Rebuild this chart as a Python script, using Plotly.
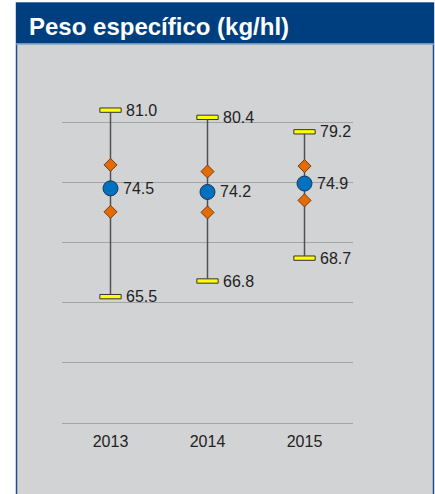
import plotly.graph_objects as go

# Data
years = ["2013", "2014", "2015"]
max_vals = [81.0, 80.4, 79.2]
min_vals = [65.5, 66.8, 68.7]
mean_vals = [74.5, 74.2, 74.9]
upper_vals = [76.45, 75.9, 76.35]
lower_vals = [72.55, 72.5, 73.5]

W, H = 435, 494
L, R, T, B = 62, 82, 62, 71
PW, PH = W - L - R, H - T - B


def px_x(px):
    return (px - L) / PW


def px_y(py):
    return (H - B - py) / PH


CAP_H = 0.36
TXT = "#222222"
FONT = "Liberation Sans, Arial, sans-serif"

fig = go.Figure()

# whisker lines (trimmed so the caps sit on top)
wx, wy = [], []
for i, (lo, hi) in enumerate(zip(min_vals, max_vals)):
    wx += [i, i, None]
    wy += [lo + CAP_H / 2, hi - CAP_H / 2, None]
fig.add_trace(go.Scatter(x=wx, y=wy, mode="lines",
                         line=dict(color="#505050", width=1.5),
                         hoverinfo="skip", showlegend=False))

idx = list(range(len(years)))

# caps for max / min
for vals in (max_vals, min_vals):
    fig.add_trace(go.Bar(
        x=idx, y=[CAP_H] * len(years),
        base=[v - CAP_H / 2 for v in vals],
        width=0.22,
        marker=dict(color="#ffff00", line=dict(color="#333333", width=1)),
        hoverinfo="skip", showlegend=False))

# inner markers
fig.add_trace(go.Scatter(
    x=idx + idx, y=upper_vals + lower_vals, mode="markers",
    marker=dict(symbol="diamond", size=10, color="#e36c09",
                line=dict(color="#7a3a05", width=1)),
    hoverinfo="skip", showlegend=False))

# mean
fig.add_trace(go.Scatter(
    x=idx, y=mean_vals, mode="markers",
    marker=dict(symbol="circle", size=15, color="#0070c0",
                line=dict(color="#1f3550", width=1)),
    hoverinfo="skip", showlegend=False))

annotations = []
for i, (hi, lo, m) in enumerate(zip(max_vals, min_vals, mean_vals)):
    for v, shift in ((hi, 13), (lo, 13), (m, 10)):
        annotations.append(dict(
            x=i, y=v, xref="x", yref="y", text=f"{v:.1f}",
            showarrow=False, xanchor="left", yanchor="middle", xshift=shift,
            font=dict(family=FONT, size=16, color=TXT)))

annotations.append(dict(
    x=px_x(27), y=px_y(26), xref="paper", yref="paper",
    text="<b>Peso específico (kg/hl)</b>", showarrow=False,
    xanchor="left", yanchor="middle",
    font=dict(family=FONT, size=24, color="#ffffff")))

shapes = [
    # grey panel with blue border
    dict(type="rect", xref="paper", yref="paper", layer="below",
         x0=px_x(16.5), x1=px_x(433.5), y0=px_y(520), y1=px_y(3),
         fillcolor="#d2d3d5", line=dict(color="#1b4f8c", width=1.5)),
    # title bar
    dict(type="rect", xref="paper", yref="paper", layer="below",
         x0=px_x(16), x1=px_x(434), y0=px_y(43.5), y1=px_y(3),
         fillcolor="#003f7f", line=dict(width=0)),
    dict(type="line", xref="paper", yref="paper", layer="below",
         x0=px_x(16), x1=px_x(434), y0=px_y(44), y1=px_y(44),
         line=dict(color="#7d9cc8", width=1.5)),
]

fig.update_layout(
    width=W, height=H,
    margin=dict(l=L, r=R, t=T, b=B),
    paper_bgcolor="#ffffff",
    plot_bgcolor="rgba(0,0,0,0)",
    showlegend=False,
    barmode="overlay",
    annotations=annotations,
    shapes=shapes,
    xaxis=dict(range=[-0.5, 2.5], tickvals=idx, ticktext=years,
               showgrid=False, zeroline=False,
               showline=True, linecolor="#a3a4a6", linewidth=1,
               ticks="outside", ticklen=4, tickcolor="rgba(0,0,0,0)",
               fixedrange=True,
               tickfont=dict(family=FONT, size=16, color=TXT)),
    yaxis=dict(range=[55, 85], tickvals=[55, 60, 65, 70, 75, 80],
               showticklabels=False, gridcolor="#a3a4a6", gridwidth=1,
               zeroline=False, showline=False, fixedrange=True),
)

fig.write_html("out.html", config={"displayModeBar": False},
               post_script="document.body.style.margin='0px';")
